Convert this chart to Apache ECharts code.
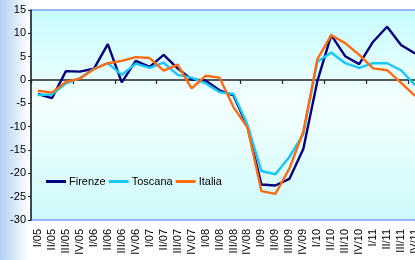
<!DOCTYPE html>
<html>
<head>
<meta charset="utf-8">
<script src="https://cdn.jsdelivr.net/npm/echarts@6/dist/echarts.min.js"></script>
<style>
  html, body { margin: 0; padding: 0; background: #fff; }
  #chart { width: 415px; height: 260px; }
</style>
</head>
<body>
<div id="chart"></div>
<script>
// quarters
const quarters = [
  'I/05', 'II/05', 'III/05', 'IV/05',
  'I/06', 'II/06', 'III/06', 'IV/06',
  'I/07', 'II/07', 'III/07', 'IV/07',
  'I/08', 'II/08', 'III/08', 'IV/08',
  'I/09', 'II/09', 'III/09', 'IV/09',
  'I/10', 'II/10', 'III/10', 'IV/10',
  'I/11', 'II/11', 'III/11', 'IV/11'
]

const firenze = [
  -3.0, -3.9, 1.9, 1.8, 2.4, 7.7, -0.5, 4.1,
  2.8, 5.4, 2.5, 0.1, -0.1, -2.2, -3.3, -10.0,
  -22.4, -22.6, -21.2, -14.8, -0.3, 9.6, 5.1, 3.4,
  8.2, 11.4, 7.5, 5.7
]

const toscana = [
  -3.2, -3.1, -0.7, 0.4, 2.4, 3.6, 1.1, 3.5,
  2.6, 3.7, 1.1, 0.5, -0.7, -2.6, -3.0, -9.6,
  -19.5, -20.2, -16.5, -11.6, 3.9, 5.9, 3.6, 2.6,
  3.6, 3.6, 2.1, -1.1
]

const italia = [
  -2.3, -2.7, -0.4, 0.3, 2.3, 3.6, 4.1, 4.9,
  4.7, 2.0, 3.3, -1.8, 0.9, 0.5, -5.8, -10.2,
  -23.8, -24.4, -19.0, -11.1, 4.4, 9.6, 7.9, 5.4,
  2.5, 2.1, -0.6, -3.4
]

const font = "'Liberation Sans', Arial, sans-serif"

const chart = echarts.init(document.getElementById('chart'), null, { renderer: 'canvas' })

function lineSeries(name, data, color) {
  return {
    name: name,
    type: 'line',
    xAxisIndex: 0,
    data: data,
    symbol: 'none',
    lineStyle: { color: color, width: 2.4 },
    itemStyle: { color: color }
  }
}

chart.setOption({
  animation: false,
  backgroundColor: new echarts.graphic.LinearGradient(0, 0, 1, 0, [
    { offset: 0, color: '#b0d0f4' },
    { offset: 0.07, color: '#ffffff' },
    { offset: 1, color: '#ffffff' }
  ]),
  grid: {
    left: 31,
    top: 10,
    right: -7,
    bottom: 40,
    show: true,
    borderColor: '#7d9ef0',
    borderWidth: 1.5,
    backgroundColor: new echarts.graphic.LinearGradient(0, 0, 0, 1, [
      { offset: 0, color: '#c6fcfd' },
      { offset: 0.45, color: '#f4ffff' },
      { offset: 1, color: '#cdf9fa' }
    ]),
    containLabel: false,
    outerBoundsMode: 'none'
  },
  legend: {
    left: 41,
    top: 171,
    itemWidth: 20,
    itemHeight: 3,
    itemGap: 3,
    icon: 'rect',
    textStyle: { fontFamily: font, fontSize: 11, color: '#000', padding: [0, 0, 0, -2] },
    data: ['Firenze', 'Toscana', 'Italia']
  },
  xAxis: [
    {
      type: 'category',
      data: quarters,
      boundaryGap: true,
      axisLine: { onZero: true, lineStyle: { color: '#222', width: 1.5 } },
      axisTick: { show: true, length: 4, lineStyle: { color: '#222', width: 1.2 } },
      axisLabel: { show: false },
      splitLine: { show: false }
    },
    {
      type: 'category',
      data: quarters,
      position: 'bottom',
      boundaryGap: true,
      axisLine: { show: false, onZero: false },
      axisTick: { show: false },
      axisLabel: {
        interval: 0,
        rotate: 90,
        margin: 9,
        fontFamily: font,
        fontSize: 11,
        color: '#000'
      },
      splitLine: { show: false }
    }
  ],
  yAxis: {
    type: 'value',
    min: -30,
    max: 15,
    interval: 5,
    axisLine: { show: true, lineStyle: { color: '#222', width: 1.5 } },
    axisTick: { show: true, length: 3, lineStyle: { color: '#222' } },
    axisLabel: { fontFamily: font, fontSize: 11, color: '#000', margin: 5 },
    splitLine: { show: false }
  },
  series: [
    lineSeries('Firenze', firenze, '#000080'),
    lineSeries('Toscana', toscana, '#16c8f6'),
    lineSeries('Italia', italia, '#ff6a10')
  ]
})
</script>
</body>
</html>
